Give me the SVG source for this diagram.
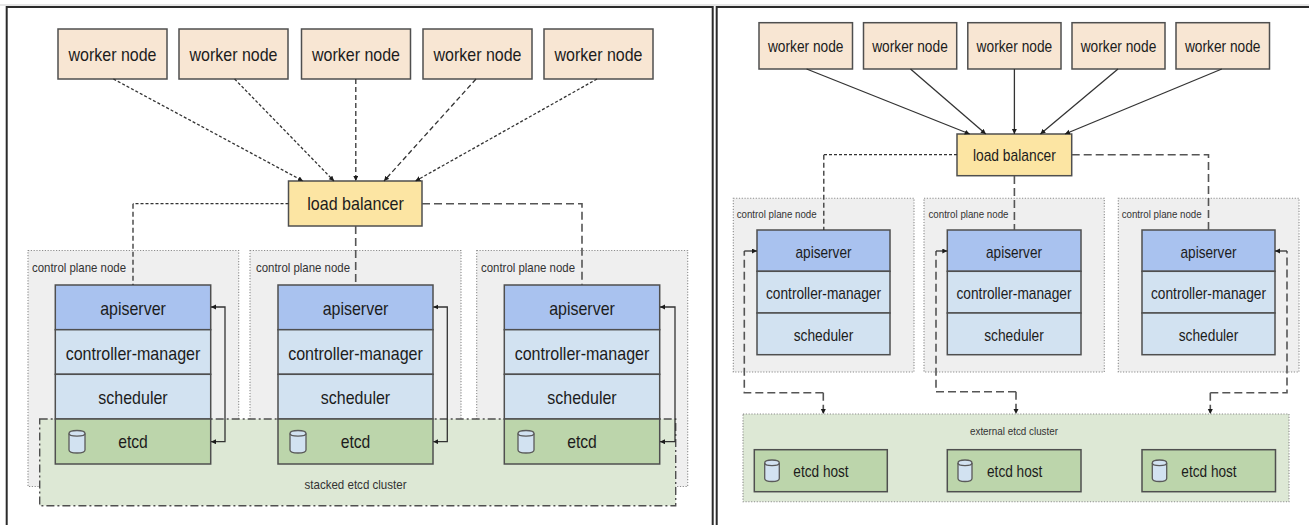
<svg xmlns="http://www.w3.org/2000/svg" width="1309" height="525" viewBox="0 0 1309 525">
<style>
text{font-family:"Liberation Sans",Arial,sans-serif;fill:#1c1c1c;text-anchor:middle}
.b{stroke:#4f4f4f;stroke-width:1.5}
.w{fill:#f8e6d3}.lb{fill:#fce5a3}.api{fill:#a9c2ef}.lt{fill:#d2e2f1}.et{fill:#bcd5ab}
.cp{fill:#efefef;stroke:#8c8c8c;stroke-width:1.1;stroke-dasharray:1.2 1.6}
.ext{fill:#dde8d5;stroke:#8c8c8c;stroke-width:1.1;stroke-dasharray:1.2 1.6}
.stk{fill:#dde8d5;stroke:#4f4f4f;stroke-width:1.4;stroke-dasharray:8 3 2 3}
.cyl{fill:#d2e2f1;stroke:#5a5a5a;stroke-width:1.3}
.cyt{fill:none;stroke:#5a5a5a;stroke-width:1.3}
.frame{fill:none;stroke:#2b2b2b;stroke-width:2}
.c{fill:none;stroke:#333;stroke-width:1.3}
.d1{stroke-dasharray:3 2}
.d2{stroke-dasharray:5 3}
.d3{stroke-dasharray:8 4;stroke-width:1.6;stroke:#555}
.ar{marker-end:url(#a)}
.two{marker-start:url(#a);marker-end:url(#a)}
.s{font-size:13px;fill:#333}.t{font-size:11.5px;fill:#333}
.L{font-size:19px}.R{font-size:17px}
</style>
<defs><marker id="a" markerUnits="userSpaceOnUse" markerWidth="6" markerHeight="6" refX="5" refY="2.5" orient="auto-start-reverse"><path d="M0 0L5 2.5L0 5z" fill="#1c1c1c"/></marker></defs>

<rect x="0" y="4" width="1309" height="2" fill="#e6e6e6"/>
<g id="panel-frames">
<path class="frame" d="M6.7 525V7H712.7V525"/>
<path class="frame" d="M716.7 525V7H1309"/>
</g>

<g id="cp-l1"><rect class="cp" x="28" y="250.5" width="210.7" height="236"/><text class="s" x="79" y="272" textLength="94" lengthAdjust="spacingAndGlyphs">control plane node</text></g>
<g id="cp-l2"><rect class="cp" x="250" y="250.5" width="211" height="236"/><text class="s" x="303" y="272" textLength="94" lengthAdjust="spacingAndGlyphs">control plane node</text></g>
<g id="cp-l3"><rect class="cp" x="476.7" y="250.5" width="211" height="236"/><text class="s" x="528" y="272" textLength="94" lengthAdjust="spacingAndGlyphs">control plane node</text></g>

<g id="stacked-etcd-cluster"><rect class="stk" x="39.7" y="419" width="636" height="86.7"/><text class="s" x="355.5" y="489" textLength="102" lengthAdjust="spacingAndGlyphs">stacked etcd cluster</text></g>

<g id="worker-l1"><rect class="w b" x="58" y="29" width="109" height="50"/><text class="L" x="112.5" y="61" textLength="88" lengthAdjust="spacingAndGlyphs">worker node</text></g>
<g id="worker-l2"><rect class="w b" x="179" y="29" width="109" height="50"/><text class="L" x="233.5" y="61" textLength="88" lengthAdjust="spacingAndGlyphs">worker node</text></g>
<g id="worker-l3"><rect class="w b" x="301.5" y="29" width="109" height="50"/><text class="L" x="356" y="61" textLength="88" lengthAdjust="spacingAndGlyphs">worker node</text></g>
<g id="worker-l4"><rect class="w b" x="423" y="29" width="109" height="50"/><text class="L" x="477.5" y="61" textLength="88" lengthAdjust="spacingAndGlyphs">worker node</text></g>
<g id="worker-l5"><rect class="w b" x="544" y="29" width="109" height="50"/><text class="L" x="598.5" y="61" textLength="88" lengthAdjust="spacingAndGlyphs">worker node</text></g>
<g id="lb-l"><rect class="lb b" x="288.5" y="181" width="133.5" height="45"/><text class="L" x="355.5" y="210" textLength="96.5" lengthAdjust="spacingAndGlyphs">load balancer</text></g>

<g id="l1-apiserver"><rect class="api b" x="55.3" y="285" width="155.4" height="44.7"/><text class="L" x="133" y="315" textLength="65.7" lengthAdjust="spacingAndGlyphs">apiserver</text></g>
<g id="l1-cm"><rect class="lt b" x="55.3" y="329.7" width="155.4" height="44.6"/><text class="L" x="133" y="360" textLength="134.7" lengthAdjust="spacingAndGlyphs">controller-manager</text></g>
<g id="l1-sched"><rect class="lt b" x="55.3" y="374.3" width="155.4" height="44.7"/><text class="L" x="133" y="404.3" textLength="69.3" lengthAdjust="spacingAndGlyphs">scheduler</text></g>
<g id="l1-etcd"><rect class="et b" x="55.3" y="419" width="155.4" height="45"/><path class="cyl" d="M69 433.5V450C69 454 85 454 85 450V433.5C85 429.5 69 429.5 69 433.5z"/><path class="cyt" d="M69 433.5C69 437 85 437 85 433.5"/><text class="L" x="133" y="448.3" textLength="29.7" lengthAdjust="spacingAndGlyphs">etcd</text></g>

<g id="l2-apiserver"><rect class="api b" x="278" y="285" width="155" height="44.7"/><text class="L" x="355.5" y="315" textLength="65.7" lengthAdjust="spacingAndGlyphs">apiserver</text></g>
<g id="l2-cm"><rect class="lt b" x="278" y="329.7" width="155" height="44.6"/><text class="L" x="355.5" y="360" textLength="134.7" lengthAdjust="spacingAndGlyphs">controller-manager</text></g>
<g id="l2-sched"><rect class="lt b" x="278" y="374.3" width="155" height="44.7"/><text class="L" x="355.5" y="404.3" textLength="69.3" lengthAdjust="spacingAndGlyphs">scheduler</text></g>
<g id="l2-etcd"><rect class="et b" x="278" y="419" width="155" height="45"/><path class="cyl" d="M290 433.5V450C290 454 306 454 306 450V433.5C306 429.5 290 429.5 290 433.5z"/><path class="cyt" d="M290 433.5C290 437 306 437 306 433.5"/><text class="L" x="355.5" y="448.3" textLength="29.7" lengthAdjust="spacingAndGlyphs">etcd</text></g>

<g id="l3-apiserver"><rect class="api b" x="504.3" y="285" width="155.4" height="44.7"/><text class="L" x="582" y="315" textLength="65.7" lengthAdjust="spacingAndGlyphs">apiserver</text></g>
<g id="l3-cm"><rect class="lt b" x="504.3" y="329.7" width="155.4" height="44.6"/><text class="L" x="582" y="360" textLength="134.7" lengthAdjust="spacingAndGlyphs">controller-manager</text></g>
<g id="l3-sched"><rect class="lt b" x="504.3" y="374.3" width="155.4" height="44.7"/><text class="L" x="582" y="404.3" textLength="69.3" lengthAdjust="spacingAndGlyphs">scheduler</text></g>
<g id="l3-etcd"><rect class="et b" x="504.3" y="419" width="155.4" height="45"/><path class="cyl" d="M518 433.5V450C518 454 534 454 534 450V433.5C534 429.5 518 429.5 518 433.5z"/><path class="cyt" d="M518 433.5C518 437 534 437 534 433.5"/><text class="L" x="582" y="448.3" textLength="29.7" lengthAdjust="spacingAndGlyphs">etcd</text></g>

<g id="cp-r1"><rect class="cp" x="733.3" y="198.3" width="180.7" height="173.7"/><text class="t" x="776.7" y="218.3" textLength="80" lengthAdjust="spacingAndGlyphs">control plane node</text></g>
<g id="cp-r2"><rect class="cp" x="924" y="198.3" width="180.3" height="173.7"/><text class="t" x="968.5" y="218.3" textLength="80" lengthAdjust="spacingAndGlyphs">control plane node</text></g>
<g id="cp-r3"><rect class="cp" x="1118.3" y="198.3" width="180.7" height="173.7"/><text class="t" x="1161.7" y="218.3" textLength="80" lengthAdjust="spacingAndGlyphs">control plane node</text></g>

<g id="external-etcd-cluster"><rect class="ext" x="743" y="414" width="546" height="87.7"/><text class="t" x="1014" y="435" textLength="88" lengthAdjust="spacingAndGlyphs">external etcd cluster</text></g>

<g id="worker-r1"><rect class="w b" x="759" y="22.7" width="93.5" height="46.3"/><text class="R" x="805.7" y="52.3" textLength="75.6" lengthAdjust="spacingAndGlyphs">worker node</text></g>
<g id="worker-r2"><rect class="w b" x="863.5" y="22.7" width="93.2" height="46.3"/><text class="R" x="910" y="52.3" textLength="75.6" lengthAdjust="spacingAndGlyphs">worker node</text></g>
<g id="worker-r3"><rect class="w b" x="967.8" y="22.7" width="93.2" height="46.3"/><text class="R" x="1014.4" y="52.3" textLength="75.6" lengthAdjust="spacingAndGlyphs">worker node</text></g>
<g id="worker-r4"><rect class="w b" x="1072" y="22.7" width="93" height="46.3"/><text class="R" x="1118.5" y="52.3" textLength="75.6" lengthAdjust="spacingAndGlyphs">worker node</text></g>
<g id="worker-r5"><rect class="w b" x="1176" y="22.7" width="93.5" height="46.3"/><text class="R" x="1222.7" y="52.3" textLength="75.6" lengthAdjust="spacingAndGlyphs">worker node</text></g>
<g id="lb-r"><rect class="lb b" x="957" y="134" width="114.7" height="41.7"/><text class="R" x="1014.4" y="161" textLength="83" lengthAdjust="spacingAndGlyphs">load balancer</text></g>

<g id="r1-apiserver"><rect class="api b" x="757" y="230" width="133" height="41.3"/><text class="R" x="823.5" y="258" textLength="56" lengthAdjust="spacingAndGlyphs">apiserver</text></g>
<g id="r1-cm"><rect class="lt b" x="757" y="271.3" width="133" height="41.7"/><text class="R" x="823.5" y="299.3" textLength="115" lengthAdjust="spacingAndGlyphs">controller-manager</text></g>
<g id="r1-sched"><rect class="lt b" x="757" y="313" width="133" height="41.7"/><text class="R" x="823.5" y="340.7" textLength="59.7" lengthAdjust="spacingAndGlyphs">scheduler</text></g>
<g id="r2-apiserver"><rect class="api b" x="947.3" y="230" width="133.7" height="41.3"/><text class="R" x="1014" y="258" textLength="56" lengthAdjust="spacingAndGlyphs">apiserver</text></g>
<g id="r2-cm"><rect class="lt b" x="947.3" y="271.3" width="133.7" height="41.7"/><text class="R" x="1014" y="299.3" textLength="115" lengthAdjust="spacingAndGlyphs">controller-manager</text></g>
<g id="r2-sched"><rect class="lt b" x="947.3" y="313" width="133.7" height="41.7"/><text class="R" x="1014" y="340.7" textLength="59.7" lengthAdjust="spacingAndGlyphs">scheduler</text></g>
<g id="r3-apiserver"><rect class="api b" x="1142" y="230" width="133" height="41.3"/><text class="R" x="1208.5" y="258" textLength="56" lengthAdjust="spacingAndGlyphs">apiserver</text></g>
<g id="r3-cm"><rect class="lt b" x="1142" y="271.3" width="133" height="41.7"/><text class="R" x="1208.5" y="299.3" textLength="115" lengthAdjust="spacingAndGlyphs">controller-manager</text></g>
<g id="r3-sched"><rect class="lt b" x="1142" y="313" width="133" height="41.7"/><text class="R" x="1208.5" y="340.7" textLength="59.7" lengthAdjust="spacingAndGlyphs">scheduler</text></g>

<g id="etcd-host-1"><rect class="et b" x="754.3" y="449.7" width="133" height="42"/><path class="cyl" d="M764.7 463V478.5C764.7 482.5 779.3 482.5 779.3 478.5V463C779.3 459 764.7 459 764.7 463z"/><path class="cyt" d="M764.7 463C764.7 466.5 779.3 466.5 779.3 463"/><text class="R" x="821" y="477.3" textLength="55.3" lengthAdjust="spacingAndGlyphs">etcd host</text></g>
<g id="etcd-host-2"><rect class="et b" x="947.3" y="449.7" width="133.7" height="42"/><path class="cyl" d="M958 463V478.5C958 482.5 972 482.5 972 478.5V463C972 459 958 459 958 463z"/><path class="cyt" d="M958 463C958 466.5 972 466.5 972 463"/><text class="R" x="1014.7" y="477.3" textLength="55.3" lengthAdjust="spacingAndGlyphs">etcd host</text></g>
<g id="etcd-host-3"><rect class="et b" x="1142" y="449.7" width="133.5" height="42"/><path class="cyl" d="M1152.3 463V478.5C1152.3 482.5 1166.7 482.5 1166.7 478.5V463C1166.7 459 1152.3 459 1152.3 463z"/><path class="cyt" d="M1152.3 463C1152.3 466.5 1166.7 466.5 1166.7 463"/><text class="R" x="1209" y="477.3" textLength="55.3" lengthAdjust="spacingAndGlyphs">etcd host</text></g>

<g id="connectors">
<path class="c d1 ar" d="M113.4 79L303 181"/>
<path class="c d1 ar" d="M234.6 79L334 181"/>
<path class="c d2 ar" d="M355.8 79V181"/>
<path class="c d2 ar" d="M476 79L384 181"/>
<path class="c d1 ar" d="M597 79L415.5 181"/>
<path class="c d1" d="M288.5 203.7H133"/>
<path class="c d2" d="M133 203.7V285"/>
<path class="c d3" d="M355.7 226V285"/>
<path class="c d3" d="M422 203.7H582V285"/>
<path class="c two" d="M211 441.7H225V307H211"/>
<path class="c two" d="M433.3 441.7H447.3V307H433.3"/>
<path class="c two" d="M660 441.7H675V307H660"/>
<path class="c ar" d="M806.6 69L969.7 134"/>
<path class="c ar" d="M910.5 69L985.8 134"/>
<path class="c ar" d="M1014.4 69V134"/>
<path class="c ar" d="M1118 69L1040.4 134"/>
<path class="c ar" d="M1221.8 69L1065 134"/>
<path class="c d1" d="M957 154.7H823.8"/>
<path class="c d2" d="M823.8 154.7V230"/>
<path class="c d3" d="M1014.4 176V230"/>
<path class="c d3" d="M1071.7 154.7H1208.5V230"/>
<path class="c d3 ar" d="M823.3 392.7V414"/>
<path class="c d3" d="M823.3 392.7H744.3V251"/>
<path class="c ar" d="M744.3 251H757"/>
<path class="c d3 ar" d="M1016 391.7V414"/>
<path class="c d3" d="M1016 391.7H936V251"/>
<path class="c ar" d="M936 251H947.3"/>
<path class="c d3 ar" d="M1210.3 392.7V414"/>
<path class="c d3" d="M1210.3 392.7H1287V251"/>
<path class="c ar" d="M1287 251H1275"/>
</g>
</svg>
